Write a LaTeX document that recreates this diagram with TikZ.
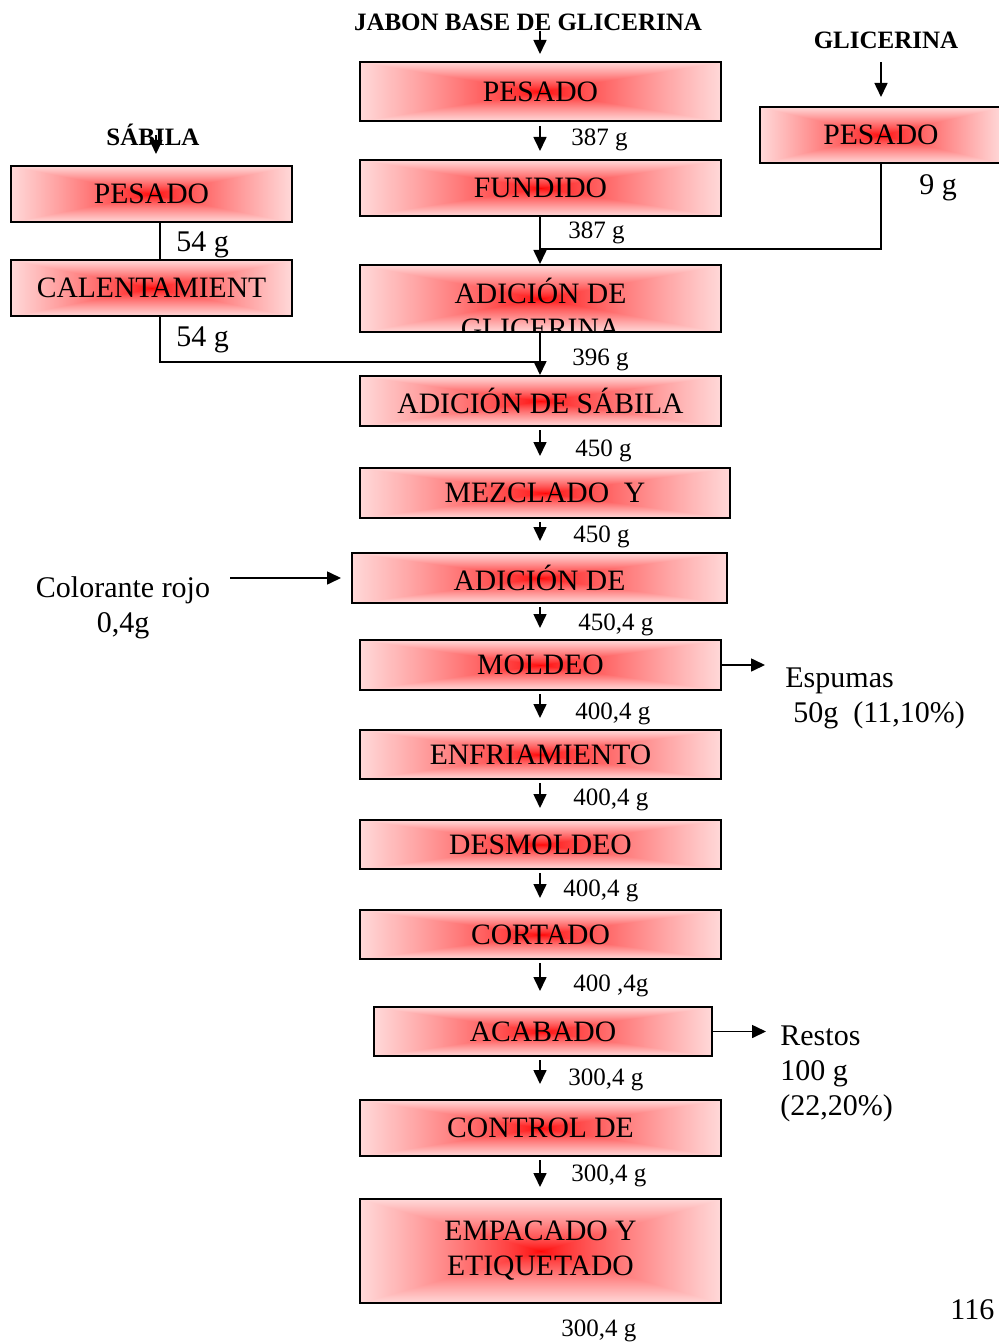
\documentclass[tikz,border=0pt]{standalone}
\usepackage{fontspec}
\setmainfont{Liberation Serif}
\usepackage{xcolor}
\usepackage{tikz}
\usetikzlibrary{arrows.meta}

% degradado rectangular desde el centro
\pgfdeclarefunctionalshading{redglow}{\pgfpoint{-50bp}{-50bp}}{\pgfpoint{50bp}{50bp}}{}{%
  abs exch abs 2 copy lt {exch} if pop 25 div dup 1 gt {pop 1} if dup sqrt add 0.5 mul 0.85 mul 1 exch dup}

\begin{document}
\begin{tikzpicture}[x=0.5pt, y=-0.5pt,
  proc/.style={draw, rectangle, line width=1pt, shade, shading=redglow,
    minimum width=180.5pt, minimum height=25pt, inner sep=0pt,
    font=\fontsize{14.8}{17.5}\selectfont},
  hdr/.style={inner sep=0pt, font=\fontsize{12.5}{15}\selectfont\bfseries},
  wt/.style={anchor=west, inner sep=0pt, yshift=-1.5pt, font=\fontsize{12.5}{15}\selectfont},
  wtbig/.style={anchor=west, inner sep=0pt, yshift=-1.5pt, font=\fontsize{15}{17.5}\selectfont},
  side/.style={inner sep=0pt, align=left, font=\fontsize{15}{17.5}\selectfont},
  flow/.style={line width=0.8pt, -{Triangle[length=7pt,width=6.5pt]}},
  gapflow/.style={flow, shorten <=1.5pt, shorten >=5.5pt},
  link/.style={line width=0.8pt}]
  \useasboundingbox (0,0) rectangle (999,1342);
  \coordinate (ax) at (540,0);

  % linea principal
  \node (jab) [hdr] at (528,22) {JABON BASE DE GLICERINA};
  \node (pes) [proc, minimum height=29.5pt] at (540.5,91.5) {PESADO};
  \node (fun) [proc, minimum height=28pt] at (540.5,188) {FUNDIDO};
  \node (adg) [proc, minimum height=33.5pt] at (540.5,298.5) {};
  \begin{scope}
    \clip ([yshift=1pt]adg.south west) rectangle (adg.north east);
    \node (adgt) [inner sep=0pt, align=center, font=\fontsize{14.8}{17.5}\selectfont]
      at (540.5,308) {ADICIÓN DE\\GLICERINA};
  \end{scope}
  \node (ads) [proc] at (540.5,401) {ADICIÓN DE SÁBILA};
  \node (mez) [proc, minimum width=185pt] at (545,493) {MEZCLADO\ \ Y};
  \node (adc) [proc, minimum width=187.5pt] at (539.5,578) {ADICIÓN DE};
  \node (mol) [proc] at (540.5,665) {MOLDEO};
  \node (enf) [proc, minimum height=24.5pt] at (540.5,754.5) {ENFRIAMIENTO};
  \node (des) [proc, minimum height=24.5pt] at (540.5,844.5) {DESMOLDEO};
  \node (cor) [proc, minimum height=24.5pt] at (540.5,934.5) {CORTADO};
  \node (aca) [proc, minimum width=169pt, minimum height=24.5pt] at (543,1031.5) {ACABADO};
  \node (con) [proc, minimum height=28pt] at (540.5,1128) {CONTROL DE};
  \node (emp) [proc, minimum height=52pt, align=center] at (540.5,1251)
    {\raisebox{1.5pt}{EMPACADO Y}\\\raisebox{1.5pt}{ETIQUETADO}};

  % glicerina
  \node (gli) [hdr] at (886,40) {GLICERINA};
  \node (pesg) [proc, minimum width=121pt, minimum height=28pt] at (881,135) {PESADO};
  \coordinate (gj) at (540,249);

  % sabila
  \node (sab) [hdr] at (153,135) {SÁBILA};
  \node (pess) [proc, minimum width=140.5pt, minimum height=28pt] at (151.5,194) {PESADO};
  \node (cal) [proc, minimum width=140.5pt, minimum height=28pt] at (151.5,288) {CALENTAMIENT};
  \coordinate (sj) at (540,362);

  % entradas y salidas laterales
  \node (colr) [side, align=center, yshift=-1.5pt] at (123,605) {Colorante rojo\\0,4g};
  \node (esp) [side, anchor=west, yshift=-2pt] at (785,694) {Espumas\\\hspace*{4pt}50g\ \ (11,10\%)};
  \coordinate (espa) at (765,667);
  \node (res) [side, anchor=west, yshift=-2pt] at (780,1070) {Restos\\100 g\\(22,20\%)};
  \coordinate (resa) at (766,1032);

  % pesos
  \node (m1) [wt] at (571,137) {387 g};
  \node (m2) [wt] at (568,230) {387 g};
  \node (m3) [wtbig] at (919,185) {9 g};
  \node (m4) [wtbig] at (176,242) {54 g};
  \node (m5) [wtbig] at (176,337) {54 g};
  \node (m6) [wt] at (572,357) {396 g};
  \node (m7) [wt] at (575,448) {450 g};
  \node (m8) [wt] at (573,534) {450 g};
  \node (m9) [wt] at (578,622) {450,4 g};
  \node (m10) [wt] at (575,711) {400,4 g};
  \node (m11) [wt] at (573,797) {400,4 g};
  \node (m12) [wt] at (563,888) {400,4 g};
  \node (m13) [wt] at (573,983) {400 ,4g};
  \node (m14) [wt] at (568,1077) {300,4 g};
  \node (m15) [wt] at (571,1173) {300,4 g};
  \node (m16) [wt] at (561,1328) {300,4 g};
  \node (pag) [wtbig] at (950,1307) {116};

  % conexiones
  \draw[flow, shorten >=3.5pt] (ax |- jab.south) -- (ax |- pes.north);
  \draw[flow, shorten <=2pt, shorten >=4pt] (ax |- pes.south) -- (ax |- fun.north);
  \draw[flow] (ax |- fun.south) -- (ax |- adg.north);
  \draw[link] (pesg.south) |- (gj);
  \draw[flow, shorten <=6.75pt, shorten >=4.5pt] (pesg.north |- gli.south) -- (pesg.north);
  \draw[flow, shorten >=5.5pt] ([xshift=1.5pt]sab.center) -- ([xshift=1.5pt]sab.center |- pess.north);
  \draw[link] ([xshift=4.25pt]pess.south) -- ([xshift=4.25pt]cal.north);
  \draw[link] ([xshift=4.25pt]cal.south) |- (sj);
  \draw[flow] (ax |- adg.south) -- (ax |- ads.north);
  \draw[gapflow] (ax |- ads.south) -- (ax |- mez.north);
  \draw[gapflow] (ax |- mez.south) -- (ax |- adc.north);
  \draw[gapflow] (ax |- adc.south) -- (ax |- mol.north);
  \draw[gapflow] (ax |- mol.south) -- (ax |- enf.north);
  \draw[gapflow] (ax |- enf.south) -- (ax |- des.north);
  \draw[gapflow] (ax |- des.south) -- (ax |- cor.north);
  \draw[gapflow, shorten >=7.5pt] (ax |- cor.south) -- (ax |- aca.north);
  \draw[gapflow, shorten >=7.5pt] (ax |- aca.south) -- (ax |- con.north);
  \draw[gapflow] (ax |- con.south) -- (ax |- emp.north);
  \draw[flow, shorten >=5pt] ([xshift=10pt]colr.east |- adc.west) -- (adc.west);
  \draw[flow] (mol.east) -- (mol.east -| espa);
  \draw[flow] (aca.east) -- (aca.east -| resa);
\end{tikzpicture}
\end{document}
